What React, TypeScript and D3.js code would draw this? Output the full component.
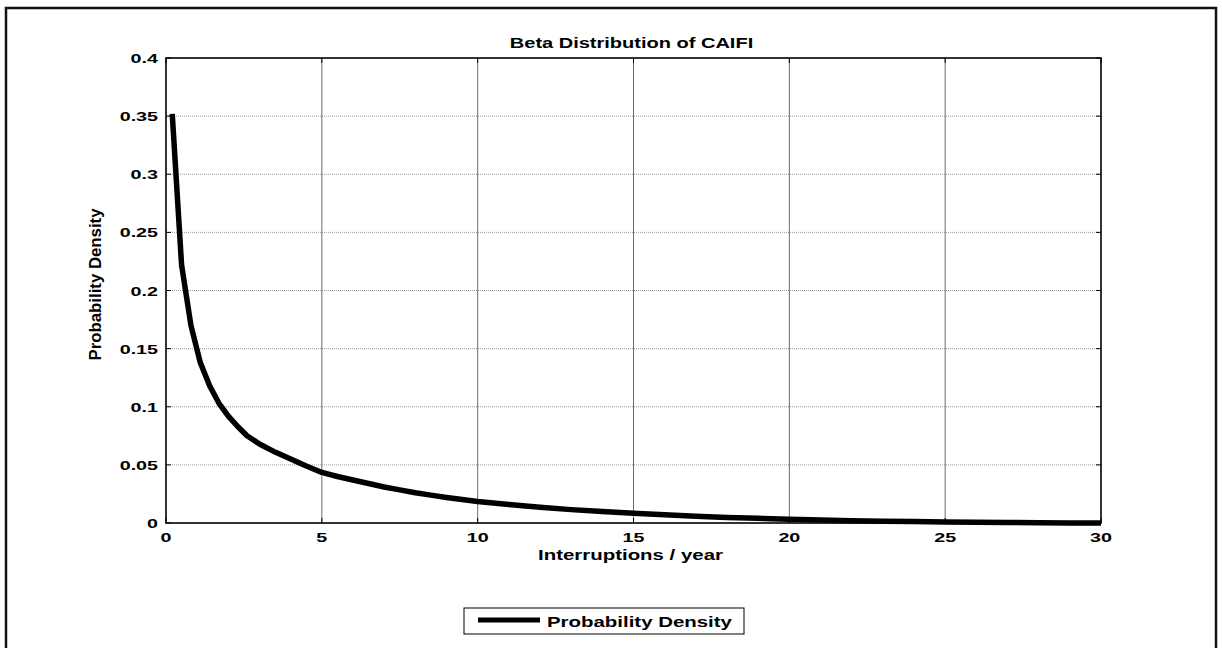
import React from "react";
import * as d3 from "d3";

// Beta density of CAIFI, sampled along interruptions per year
const interruptions = [
  0.2, 0.5, 0.8, 1.1, 1.4, 1.7, 2.0, 2.3, 2.6, 3.0, 3.5, 4.0, 4.5, 5.0, 5.5, 6.0, 6.5, 7.0, 7.5, 8.0, 8.5, 9.0,
  9.5, 10, 11, 12, 13, 14, 15, 16, 17, 18, 19, 20, 21, 22, 23, 24, 25, 26, 27, 28, 29, 30,
];
const density = [
  0.352, 0.222, 0.17, 0.138, 0.118, 0.103, 0.092, 0.083, 0.075, 0.068, 0.061, 0.055, 0.049, 0.0435, 0.04,
  0.037, 0.034, 0.031, 0.0285, 0.026, 0.024, 0.022, 0.0202, 0.0185, 0.016, 0.0135, 0.0115, 0.0098, 0.0083,
  0.007, 0.0058, 0.0048, 0.004, 0.0032, 0.0026, 0.002, 0.0016, 0.0012, 0.0009, 0.0006, 0.0004, 0.0003, 0.0001,
  0.0,
];

const xTicks = [0, 5, 10, 15, 20, 25, 30];
const yTicks = [0, 0.05, 0.1, 0.15, 0.2, 0.25, 0.3, 0.35, 0.4];
const yTickLabels = ["0", "0.05", "0.1", "0.15", "0.2", "0.25", "0.3", "0.35", "0.4"];

const titleText = "Beta Distribution of CAIFI";
const xLabelText = "Interruptions / year";
const yLabelText = "Probability Density";
const legendText = "Probability Density";

const W = 1222;
const H = 648;
const plot = { left: 166, top: 58, right: 1101, bottom: 523 };
const SX = 1.46; // horizontal stretch applied to text
const FONT = "'Liberation Sans', Arial, sans-serif";

export default function App() {
  const x = d3.scaleLinear().domain([0, 30]).range([plot.left, plot.right]);
  const y = d3.scaleLinear().domain([0, 0.4]).range([plot.bottom, plot.top]);

  const points: [number, number][] = interruptions.map((v, i) => [v, density[i]]);
  const line = d3
    .line<[number, number]>()
    .x((d) => x(d[0]))
    .y((d) => y(d[1]));

  const tickLen = 5;
  const cx = (plot.left + plot.right) / 2;
  const cy = (plot.top + plot.bottom) / 2;

  return (
    <svg
      width={W}
      height={H}
      style={{ position: "absolute", left: 0, top: 0, background: "#fff" }}
      fontFamily={FONT}
    >
      {/* figure frame */}
      <rect x={6} y={8} width={1210} height={700} fill="none" stroke="#111" strokeWidth={2.5} />

      {/* grid */}
      {yTicks
        .filter((t) => t > 0 && t < 0.4)
        .map((t) => (
          <line
            key={"gy" + t}
            x1={plot.left}
            x2={plot.right}
            y1={y(t)}
            y2={y(t)}
            stroke="#9a9a9a"
            strokeWidth={1}
            strokeDasharray="1,1"
          />
        ))}
      {xTicks
        .filter((t) => t > 0 && t < 30)
        .map((t) => (
          <line
            key={"gx" + t}
            x1={x(t)}
            x2={x(t)}
            y1={plot.top}
            y2={plot.bottom}
            stroke="#6e6e6e"
            strokeWidth={1}
          />
        ))}

      {/* density curve */}
      <path d={line(points) || ""} fill="none" stroke="#000" strokeWidth={5.5} strokeLinejoin="round" />

      {/* axes box */}
      <rect
        x={plot.left}
        y={plot.top}
        width={plot.right - plot.left}
        height={plot.bottom - plot.top}
        fill="none"
        stroke="#000"
        strokeWidth={1.6}
      />

      {/* ticks on all four sides */}
      {xTicks.map((t) => (
        <g key={"tx" + t}>
          <line x1={x(t)} x2={x(t)} y1={plot.bottom} y2={plot.bottom - tickLen} stroke="#000" />
          <line x1={x(t)} x2={x(t)} y1={plot.top} y2={plot.top + tickLen} stroke="#000" />
        </g>
      ))}
      {yTicks.map((t) => (
        <g key={"ty" + t}>
          <line x1={plot.left} x2={plot.left + tickLen} y1={y(t)} y2={y(t)} stroke="#000" />
          <line x1={plot.right} x2={plot.right - tickLen} y1={y(t)} y2={y(t)} stroke="#000" />
        </g>
      ))}

      {/* tick labels */}
      {xTicks.map((t) => (
        <text
          key={"lx" + t}
          transform={`translate(${x(t)},${plot.bottom + 19}) scale(${SX},1)`}
          textAnchor="middle"
          fontSize={13.5}
          fontWeight="bold"
        >
          {t}
        </text>
      ))}
      {yTicks.map((t, i) => (
        <text
          key={"ly" + t}
          transform={`translate(${plot.left - 8},${y(t) + 5}) scale(${SX},1)`}
          textAnchor="end"
          fontSize={13.5}
          fontWeight="bold"
        >
          {yTickLabels[i]}
        </text>
      ))}

      {/* title and axis labels */}
      <text
        transform={`translate(${cx - 2},48) scale(1.38,1)`}
        textAnchor="middle"
        fontSize={14.5}
        fontWeight="bold"
      >
        {titleText}
      </text>
      <text
        transform={`translate(${cx - 3},560) scale(${SX},1)`}
        textAnchor="middle"
        fontSize={14}
        fontWeight="bold"
      >
        {xLabelText}
      </text>
      <text
        transform={`translate(101,${cy - 6}) rotate(-90)`}
        textAnchor="middle"
        fontSize={16}
        fontWeight="bold"
        textLength={152}
        lengthAdjust="spacingAndGlyphs"
      >
        {yLabelText}
      </text>

      {/* legend */}
      <rect x={464} y={608} width={280} height={26} fill="#fff" stroke="#000" strokeWidth={1} />
      <line x1={478} x2={540} y1={620} y2={620} stroke="#000" strokeWidth={5} />
      <text transform={`translate(547,627) scale(${SX},1)`} fontSize={14} fontWeight="bold">
        {legendText}
      </text>
    </svg>
  );
}
